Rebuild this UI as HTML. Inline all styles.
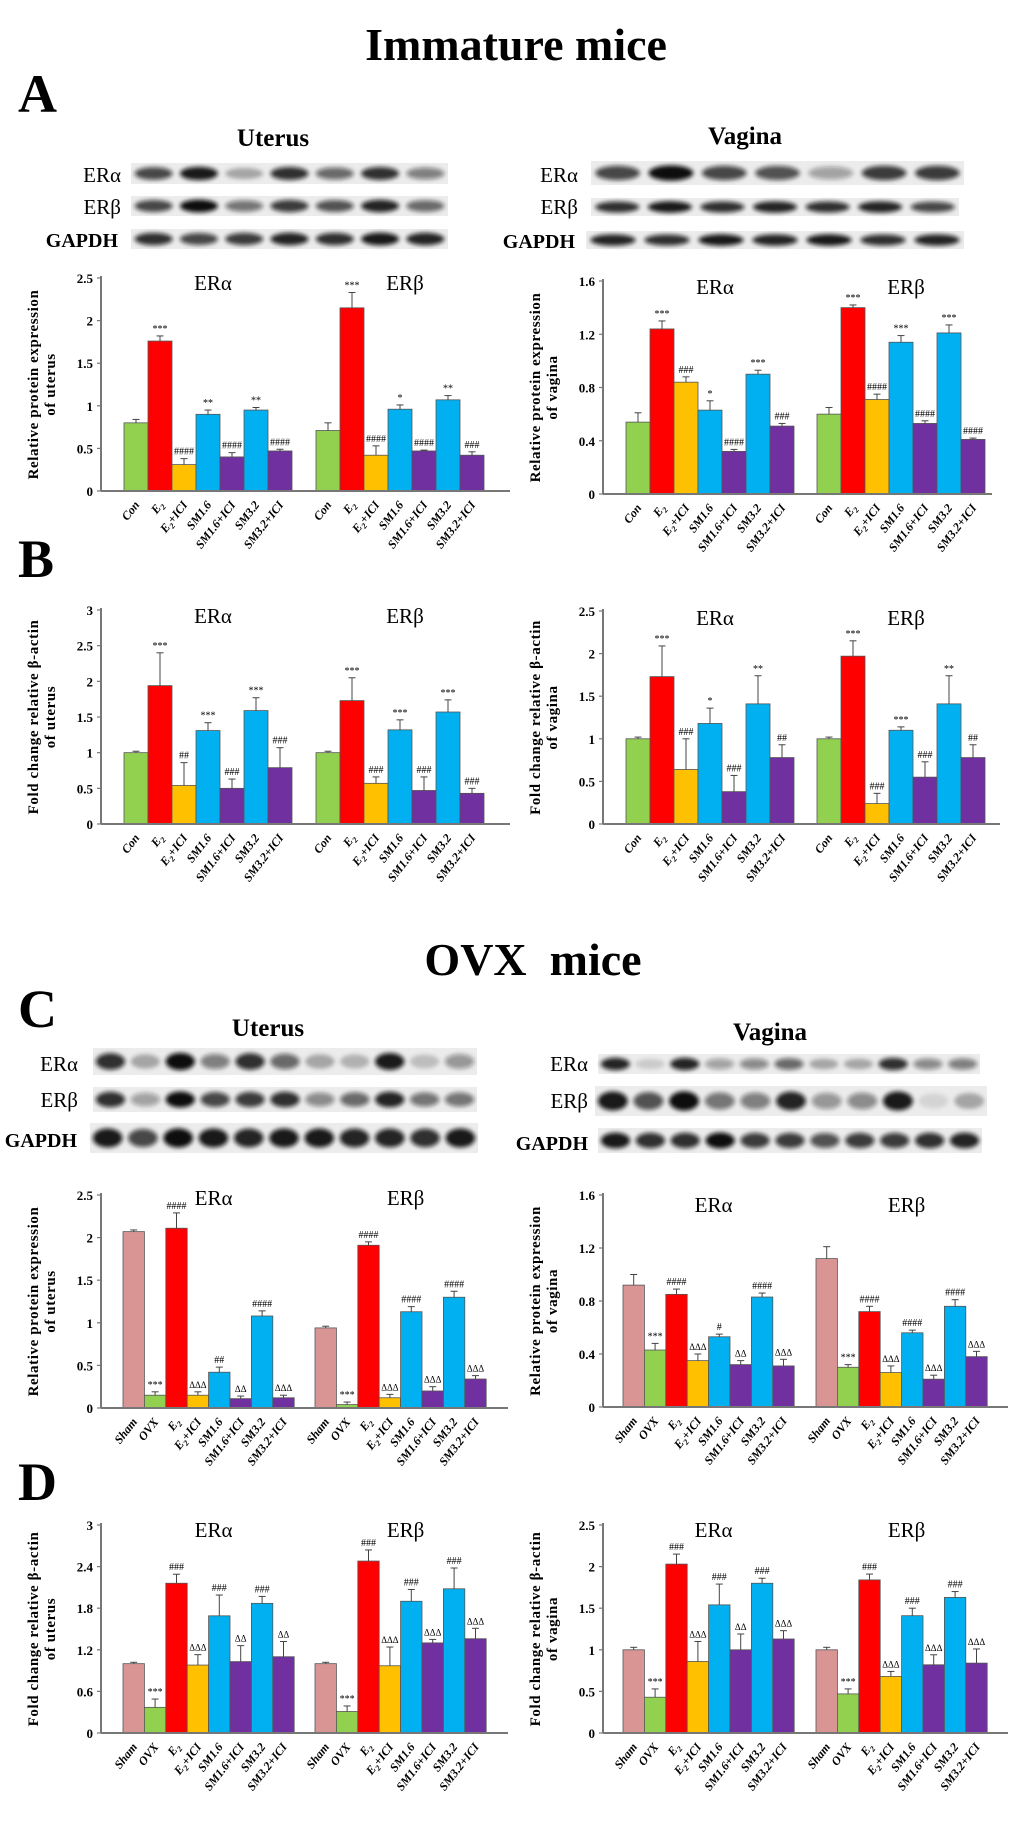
<!DOCTYPE html>
<html><head><meta charset="utf-8">
<style>
html,body{margin:0;padding:0;background:#fff;}
svg{display:block;font-family:"Liberation Serif",serif;}
</style></head>
<body>
<svg id="fig" width="1020" height="1835" viewBox="0 0 1020 1835">
<defs>
<filter id="bl" x="-20%" y="-50%" width="140%" height="200%"><feGaussianBlur stdDeviation="2.2"/></filter>
</defs>
<text x="516" y="60" text-anchor="middle" font-size="46" font-weight="bold">Immature mice</text>
<text x="18" y="112" font-size="54" font-weight="bold">A</text>
<text x="273" y="146" text-anchor="middle" font-size="25" font-weight="bold">Uterus</text>
<text x="745" y="144" text-anchor="middle" font-size="25" font-weight="bold">Vagina</text>
<text x="18" y="577" font-size="54" font-weight="bold">B</text>
<text x="533" y="975" text-anchor="middle" font-size="46" font-weight="bold">OVX&#160; mice</text>
<text x="18" y="1027" font-size="54" font-weight="bold">C</text>
<text x="268" y="1036" text-anchor="middle" font-size="25" font-weight="bold">Uterus</text>
<text x="770" y="1040" text-anchor="middle" font-size="25" font-weight="bold">Vagina</text>
<text x="18" y="1500" font-size="54" font-weight="bold">D</text>
<g id="content"></g>
</svg>
<script>
// ---------- categories ----------
const cats7 = ['Con','E2','E2+ICI','SM1.6','SM1.6+ICI','SM3.2','SM3.2+ICI'];
const cats8 = ['Sham','OVX','E2','E2+ICI','SM1.6','SM1.6+ICI','SM3.2','SM3.2+ICI'];
const colors7 = ['#92d050','#ff0000','#ffc000','#00b0f0','#7030a0','#00b0f0','#7030a0'];
const colors8 = ['#d99594','#92d050','#ff0000','#ffc000','#00b0f0','#7030a0','#00b0f0','#7030a0'];
// ---------- A uterus ----------
const aUtA = [0.80,1.76,0.31,0.90,0.40,0.95,0.47];
const aUtAErr = [0.04,0.06,0.07,0.05,0.05,0.03,0.02];
const aUtAAnn = ['','***','####','**','####','**','####'];
const aUtB = [0.71,2.15,0.42,0.96,0.47,1.07,0.42];
const aUtBErr = [0.09,0.18,0.11,0.05,0.01,0.05,0.04];
const aUtBAnn = ['','***','####','*','####','**','###'];
const aUtTicks = ['0','0.5','1','1.5','2','2.5'];
// ---------- A vagina ----------
const aVaA = [0.54,1.24,0.84,0.63,0.32,0.90,0.51];
const aVaAErr = [0.07,0.06,0.04,0.07,0.015,0.03,0.02];
const aVaAAnn = ['','***','###','*','####','***','###'];
const aVaB = [0.60,1.40,0.71,1.14,0.53,1.21,0.41];
const aVaBErr = [0.05,0.02,0.04,0.05,0.02,0.06,0.01];
const aVaBAnn = ['','***','####','***','####','***','####'];
const aVaTicks = ['0','0.4','0.8','1.2','1.6'];
// ---------- B uterus ----------
const bUtA = [1.00,1.94,0.54,1.31,0.50,1.59,0.79];
const bUtAErr = [0.02,0.46,0.32,0.11,0.13,0.18,0.28];
const bUtAAnn = ['','***','##','***','###','***','###'];
const bUtB = [1.00,1.73,0.57,1.32,0.47,1.57,0.43];
const bUtBErr = [0.02,0.32,0.09,0.14,0.19,0.17,0.07];
const bUtBAnn = ['','***','###','***','###','***','###'];
const bUtTicks = ['0','0.5','1','1.5','2','2.5','3'];
// ---------- B vagina ----------
const bVaA = [1.00,1.73,0.64,1.18,0.38,1.41,0.78];
const bVaAErr = [0.02,0.36,0.36,0.18,0.19,0.33,0.15];
const bVaAAnn = ['','***','###','*','###','**','##'];
const bVaB = [1.00,1.97,0.24,1.10,0.55,1.41,0.78];
const bVaBErr = [0.02,0.18,0.12,0.04,0.18,0.33,0.15];
const bVaBAnn = ['','***','###','***','###','**','##'];
const bVaTicks = ['0','0.5','1','1.5','2','2.5'];
// ---------- C uterus ----------
const cUtA = [2.07,0.15,2.11,0.15,0.42,0.11,1.08,0.12];
const cUtAErr = [0.02,0.04,0.18,0.04,0.06,0.03,0.06,0.03];
const cUtAAnn = ['','***','####','ΔΔΔ','##','ΔΔ','####','ΔΔΔ'];
const cUtB = [0.94,0.04,1.91,0.12,1.13,0.20,1.30,0.34];
const cUtBErr = [0.02,0.03,0.04,0.04,0.06,0.05,0.07,0.04];
const cUtBAnn = ['','***','####','ΔΔΔ','####','ΔΔΔ','####','ΔΔΔ'];
const cUtTicks = ['0','0.5','1','1.5','2','2.5'];
// ---------- C vagina ----------
const cVaA = [0.92,0.43,0.85,0.35,0.53,0.32,0.83,0.31];
const cVaAErr = [0.08,0.05,0.04,0.05,0.02,0.03,0.03,0.05];
const cVaAAnn = ['','***','####','ΔΔΔ','#','ΔΔ','####','ΔΔΔ'];
const cVaB = [1.12,0.30,0.72,0.26,0.56,0.21,0.76,0.38];
const cVaBErr = [0.09,0.02,0.04,0.05,0.02,0.03,0.05,0.04];
const cVaBAnn = ['','***','####','ΔΔΔ','####','ΔΔΔ','####','ΔΔΔ'];
const cVaTicks = ['0','0.4','0.8','1.2','1.6'];
// ---------- D uterus ----------
const dUtA = [1.00,0.37,2.16,0.98,1.69,1.03,1.87,1.10];
const dUtAErr = [0.02,0.12,0.13,0.15,0.30,0.23,0.10,0.22];
const dUtAAnn = ['','***','###','ΔΔΔ','###','ΔΔ','###','ΔΔ'];
const dUtB = [1.00,0.31,2.48,0.97,1.90,1.30,2.08,1.36];
const dUtBErr = [0.02,0.08,0.16,0.27,0.17,0.05,0.30,0.15];
const dUtBAnn = ['','***','###','ΔΔΔ','###','ΔΔΔ','###','ΔΔΔ'];
const dUtTicks = ['0','0.6','1.2','1.8','2.4','3'];
// ---------- D vagina ----------
const dVaA = [1.00,0.43,2.03,0.86,1.54,1.00,1.80,1.13];
const dVaAErr = [0.03,0.10,0.12,0.24,0.25,0.19,0.06,0.10];
const dVaAAnn = ['','***','###','ΔΔΔ','###','ΔΔ','###','ΔΔΔ'];
const dVaB = [1.00,0.47,1.84,0.68,1.41,0.82,1.63,0.84];
const dVaBErr = [0.03,0.06,0.07,0.06,0.09,0.12,0.07,0.17];
const dVaBAnn = ['','***','###','ΔΔΔ','###','ΔΔΔ','###','ΔΔΔ'];
const dVaTicks = ['0','0.5','1','1.5','2','2.5'];
// ---------- blot band intensities ----------
const blotAUtERa = [0.75,0.95,0.3,0.85,0.6,0.85,0.5];
const blotAUtERb = [0.75,1,0.55,0.8,0.7,0.9,0.6];
const blotAUtGAP = [0.85,0.75,0.8,0.9,0.85,0.95,0.9];
const blotAVaERa = [0.75,1,0.75,0.7,0.35,0.8,0.8];
const blotAVaERb = [0.85,0.95,0.85,0.9,0.85,0.9,0.75];
const blotAVaGAP = [0.9,0.85,0.95,0.9,0.95,0.85,0.9];
const blotCUtERa = [0.85,0.3,1,0.5,0.85,0.6,0.3,0.25,0.95,0.2,0.4];
const blotCUtERb = [0.85,0.35,1,0.75,0.8,0.85,0.45,0.6,0.9,0.55,0.55];
const blotCUtGAP = [0.95,0.75,1,0.95,0.9,0.95,0.95,0.9,0.9,0.85,0.95];
const blotCVaERa = [0.9,0.15,0.9,0.35,0.45,0.6,0.3,0.3,0.85,0.45,0.5];
const blotCVaERb = [0.95,0.7,1,0.55,0.5,0.9,0.4,0.45,0.95,0.1,0.3];
const blotCVaGAP = [0.95,0.85,0.85,1,0.8,0.8,0.7,0.8,0.8,0.85,0.9];

const NS='http://www.w3.org/2000/svg';
const root=document.getElementById('content');
function mk(tag,attrs,parent){const e=document.createElementNS(NS,tag);for(const k in attrs)e.setAttribute(k,attrs[k]);(parent||root).appendChild(e);return e;}

function blot(x,y,w,h,vals,name){
  const g=mk('g',{});
  
  
  mk('rect',{x:x,y:y,width:w,height:h,fill:'#ececec'},g);
  const lw=w/vals.length;
  vals.forEach((v,i)=>{
    const b=mk('ellipse',{cx:x+lw*(i+0.5),cy:y+h/2,rx:lw*0.42,ry:h*0.24+v*h*0.08,fill:'#111','fill-opacity':v,filter:'url(#bl)'},g);
    
    
  });
}
function blotLabel(x,y,txt,name){
  const t=mk('text',{x:x,y:y,'text-anchor':'end','font-size':txt==='GAPDH'?20:21,'font-weight':txt==='GAPDH'?'bold':'normal'});
  t.textContent=txt;
  
  
}

function xlabel(g,x,y,txt){
  const t=mk('text',{x:x,y:y,'text-anchor':'end','font-size':12,'font-weight':'bold','font-style':'italic',transform:`rotate(-52 ${x} ${y})`},g);
  if(txt.startsWith('E2')){
    t.appendChild(document.createTextNode('E'));
    const s=mk('tspan',{dy:3,'font-size':8},t);s.textContent='2';
    const r=mk('tspan',{dy:-3},t);r.textContent=txt.slice(2)||'\u200b';
  } else t.textContent=txt;
  
  
}

function chart(cfg,cats,colors,groups,ticks,name){
  const g=mk('g',{});
  
  
  const max=parseFloat(ticks[ticks.length-1]);
  const Y=v=>cfg.y0-v/max*(cfg.y0-cfg.yTop);
  // y label
  const cy=(cfg.y0+cfg.yTop)/2;
  const yl=mk('text',{x:0,y:0,'text-anchor':'middle','font-size':15,'font-weight':'bold','letter-spacing':'0.6',transform:`translate(${cfg.ylx},${cy}) rotate(-90)`},g);
  const t1=mk('tspan',{x:0,dy:0},yl);t1.textContent=cfg.yl1;
  const t2=mk('tspan',{x:0,dy:17},yl);t2.textContent=cfg.yl2;
  
  
  // ticks
  ticks.forEach(tk=>{
    const v=parseFloat(tk);const y=Y(v);
    mk('line',{x1:cfg.ax-4,x2:cfg.ax,y1:y,y2:y,stroke:'#777','stroke-width':1.2},g);
    const t=mk('text',{x:cfg.ax-8,y:y+5,'text-anchor':'end','font-size':13,'font-weight':'bold'},g);
    t.textContent=tk;
    
    
  });
  groups.forEach((grp,gi)=>{
    const gx=cfg.gx[gi];
    const gl=mk('text',{x:gx+cats.length*cfg.bw/2+5,y:cfg.gly,'text-anchor':'middle','font-size':21},g);
    gl.textContent=gi===0?'ERα':'ERβ';
    
    
    grp.vals.forEach((v,i)=>{
      const x=gx+i*cfg.bw;
      const r=mk('rect',{x:x,y:Y(v),width:cfg.bw,height:cfg.y0-Y(v),fill:colors[i],stroke:'#555','stroke-width':0.8},g);
      
      
      const top=Y(v+grp.err[i]);const cx=x+cfg.bw/2;
      mk('line',{x1:cx,x2:cx,y1:Y(v),y2:top,stroke:'#444','stroke-width':1},g);
      mk('line',{x1:cx-3.5,x2:cx+3.5,y1:top,y2:top,stroke:'#444','stroke-width':1},g);
      if(grp.ann[i]){
        const a=mk('text',{x:cx,y:top-4,'text-anchor':'middle','font-size':grp.ann[i].includes('Δ')?9:10},g);
        a.textContent=grp.ann[i];
        
        
      }
      xlabel(g,cx+4,cfg.y0+14,cats[i]);
    });
  });
  mk('line',{x1:cfg.ax,x2:cfg.ax,y1:cfg.yTop-2,y2:cfg.y0,stroke:'#777','stroke-width':2},g);
  mk('line',{x1:cfg.ax,x2:cfg.axEnd,y1:cfg.y0,y2:cfg.y0,stroke:'#777','stroke-width':2},g);
}

// ---- blots A ----
blot(131,163,317,21,blotAUtERa,'blot-a-uterus-era');
blot(131,196,317,20,blotAUtERb,'blot-a-uterus-erb');
blot(131,229,317,20,blotAUtGAP,'blot-a-uterus-gapdh');
blot(591,161,373,24,blotAVaERa,'blot-a-vagina-era');
blot(591,198,368,18,blotAVaERb,'blot-a-vagina-erb');
blot(586,231,378,18,blotAVaGAP,'blot-a-vagina-gapdh');
blotLabel(121,182,'ERα','blot-label-era');blotLabel(121,214,'ERβ','blot-label-erb');blotLabel(118,247,'GAPDH','blot-label-gapdh');
blotLabel(578,182,'ERα','blot-label-era');blotLabel(578,214,'ERβ','blot-label-erb');blotLabel(575,248,'GAPDH','blot-label-gapdh');
// ---- blots C ----
blot(93,1048,384,27,blotCUtERa,'blot-c-uterus-era');
blot(93,1087,384,25,blotCUtERb,'blot-c-uterus-erb');
blot(90,1123,388,30,blotCUtGAP,'blot-c-uterus-gapdh');
blot(598,1054,382,20,blotCVaERa,'blot-c-vagina-era');
blot(595,1086,392,30,blotCVaERb,'blot-c-vagina-erb');
blot(598,1128,384,25,blotCVaGAP,'blot-c-vagina-gapdh');
blotLabel(78,1071,'ERα','blot-label-era');blotLabel(78,1107,'ERβ','blot-label-erb');blotLabel(77,1147,'GAPDH','blot-label-gapdh');
blotLabel(588,1071,'ERα','blot-label-era');blotLabel(588,1108,'ERβ','blot-label-erb');blotLabel(588,1150,'GAPDH','blot-label-gapdh');

const RP='Relative protein expression', FC='Fold change relative β-actin';
chart({ax:101,axEnd:510,y0:491,yTop:278,gx:[124,316],bw:24,gly:290,ylx:38,yl1:RP,yl2:'of uterus'},cats7,colors7,
  [{vals:aUtA,err:aUtAErr,ann:aUtAAnn},{vals:aUtB,err:aUtBErr,ann:aUtBAnn}],aUtTicks,'chart-a-uterus');
chart({ax:603,axEnd:992,y0:494,yTop:281,gx:[626,817],bw:24,gly:294,ylx:540,yl1:RP,yl2:'of vagina'},cats7,colors7,
  [{vals:aVaA,err:aVaAErr,ann:aVaAAnn},{vals:aVaB,err:aVaBErr,ann:aVaBAnn}],aVaTicks,'chart-a-vagina');
chart({ax:101,axEnd:510,y0:824,yTop:610,gx:[124,316],bw:24,gly:623,ylx:38,yl1:FC,yl2:'of uterus'},cats7,colors7,
  [{vals:bUtA,err:bUtAErr,ann:bUtAAnn},{vals:bUtB,err:bUtBErr,ann:bUtBAnn}],bUtTicks,'chart-b-uterus');
chart({ax:603,axEnd:1000,y0:824,yTop:611,gx:[626,817],bw:24,gly:625,ylx:540,yl1:FC,yl2:'of vagina'},cats7,colors7,
  [{vals:bVaA,err:bVaAErr,ann:bVaAAnn},{vals:bVaB,err:bVaBErr,ann:bVaBAnn}],bVaTicks,'chart-b-vagina');
chart({ax:101,axEnd:508,y0:1408,yTop:1195,gx:[123,315],bw:21.4,gly:1205,ylx:38,yl1:RP,yl2:'of uterus'},cats8,colors8,
  [{vals:cUtA,err:cUtAErr,ann:cUtAAnn},{vals:cUtB,err:cUtBErr,ann:cUtBAnn}],cUtTicks,'chart-c-uterus');
chart({ax:603,axEnd:1008,y0:1407,yTop:1195,gx:[623,816],bw:21.4,gly:1212,ylx:540,yl1:RP,yl2:'of vagina'},cats8,colors8,
  [{vals:cVaA,err:cVaAErr,ann:cVaAAnn},{vals:cVaB,err:cVaBErr,ann:cVaBAnn}],cVaTicks,'chart-c-vagina');
chart({ax:101,axEnd:508,y0:1733,yTop:1525,gx:[123,315],bw:21.4,gly:1537,ylx:38,yl1:FC,yl2:'of uterus'},cats8,colors8,
  [{vals:dUtA,err:dUtAErr,ann:dUtAAnn},{vals:dUtB,err:dUtBErr,ann:dUtBAnn}],dUtTicks,'chart-d-uterus');
chart({ax:603,axEnd:1008,y0:1733,yTop:1525,gx:[623,816],bw:21.4,gly:1537,ylx:540,yl1:FC,yl2:'of vagina'},cats8,colors8,
  [{vals:dVaA,err:dVaAErr,ann:dVaAAnn},{vals:dVaB,err:dVaBErr,ann:dVaBAnn}],dVaTicks,'chart-d-vagina');
</script>
</body></html>
